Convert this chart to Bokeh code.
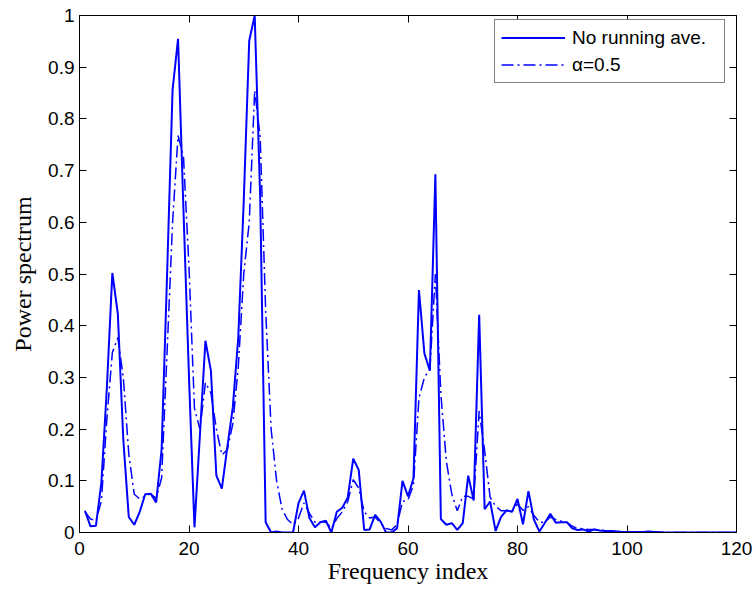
from bokeh.plotting import figure
from bokeh.models import LinearAxis, FixedTicker, CustomJSTickFormatter, Range1d
from bokeh.embed import file_html
from bokeh.resources import INLINE

freq = list(range(1, 121))

no_running = [
    0.042, 0.012, 0.013, 0.097, 0.28, 0.502, 0.423, 0.18, 0.030, 0.015,
    0.04, 0.074, 0.075, 0.058, 0.161, 0.50, 0.856, 0.955, 0.62, 0.30,
    0.01, 0.19, 0.371, 0.313, 0.11, 0.085, 0.165, 0.242, 0.377, 0.642,
    0.951, 1.0, 0.65, 0.02, 0.0, 0.002, 0.0, 0.0, 0.0, 0.057,
    0.081, 0.028, 0.01, 0.02, 0.023, 0.0, 0.04, 0.048, 0.068, 0.143,
    0.121, 0.005, 0.006, 0.034, 0.021, 0.0, 0.0, 0.008, 0.1, 0.07,
    0.105, 0.469, 0.346, 0.313, 0.693, 0.026, 0.015, 0.018, 0.005, 0.018,
    0.11, 0.062, 0.421, 0.045, 0.06, 0.003, 0.03, 0.043, 0.04, 0.065,
    0.016, 0.08, 0.025, 0.002, 0.019, 0.036, 0.019, 0.02, 0.02, 0.008,
    0.005, 0.006, 0.002, 0.006, 0.004, 0.003, 0.003, 0.002, 0.001, 0.001,
    0.001, 0.001, 0.001, 0.002, 0.001, 0.0, 0.0, 0.0, 0.0, 0.0,
    0.0, 0.0, 0.0, 0.0, 0.0, 0.0, 0.0, 0.0, 0.0, 0.0,
]

alpha_05 = [
    0.04, 0.026, 0.023, 0.061, 0.22, 0.348, 0.377, 0.30, 0.152, 0.074,
    0.065, 0.07, 0.075, 0.066, 0.106, 0.35, 0.60, 0.768, 0.726, 0.513,
    0.24, 0.20, 0.29, 0.27, 0.20, 0.15, 0.16, 0.21, 0.32, 0.50,
    0.60, 0.855, 0.765, 0.43, 0.20, 0.10, 0.045, 0.025, 0.015, 0.028,
    0.057, 0.037, 0.02, 0.021, 0.02, 0.008, 0.027, 0.04, 0.06, 0.102,
    0.086, 0.04, 0.028, 0.03, 0.018, 0.008, 0.005, 0.015, 0.06, 0.063,
    0.092, 0.26, 0.30, 0.316, 0.50, 0.268, 0.138, 0.074, 0.042, 0.07,
    0.07, 0.065, 0.235, 0.158, 0.068, 0.051, 0.042, 0.042, 0.042, 0.055,
    0.043, 0.05, 0.033, 0.02, 0.02, 0.03, 0.025, 0.022, 0.02, 0.012,
    0.008, 0.007, 0.006, 0.006, 0.005, 0.004, 0.003, 0.002, 0.002, 0.001,
    0.001, 0.001, 0.001, 0.002, 0.001, 0.001, 0.0, 0.0, 0.0, 0.0,
    0.0, 0.0, 0.0, 0.0, 0.0, 0.0, 0.0, 0.0, 0.0, 0.0,
]

x_ticks = [0, 20, 40, 60, 80, 100, 120]
y_ticks = [0, 0.1, 0.2, 0.3, 0.4, 0.5, 0.6, 0.7, 0.8, 0.9, 1.0]

TICK_FONT = "Liberation Sans"
LABEL_FONT = "Liberation Serif"

p = figure(width=756, height=591, output_backend="svg", toolbar_location=None,
           x_range=Range1d(0, 120), y_range=Range1d(0, 1),
           min_border_left=79, min_border_right=20, min_border_top=15, min_border_bottom=59)
p.background_fill_color = "white"
p.border_fill_color = "white"
p.outline_line_color = "black"
p.outline_line_width = 1
p.grid.visible = False

p.line(freq, no_running, line_color="#0000FF", line_width=2, legend_label="No running ave.")
p.line(freq, alpha_05, line_color="#0000FF", line_width=1.5, line_dash="12 4 2 4",
       legend_label="\u03b1=0.5")

def style_axis(ax, ticks, show_labels=True):
    ax.ticker = FixedTicker(ticks=ticks)
    ax.axis_line_color = "black"
    ax.major_tick_line_color = "black"
    ax.major_tick_in = 7
    ax.major_tick_out = 0
    ax.minor_tick_line_color = None
    ax.major_label_text_font = TICK_FONT
    ax.major_label_text_color = "black"
    if show_labels:
        ax.major_label_text_font_size = "19px"
    else:
        ax.major_label_text_font_size = "6px"
        ax.major_label_standoff = 0
        ax.formatter = CustomJSTickFormatter(code="return '';")

xa = p.xaxis[0]
style_axis(xa, x_ticks)
xa.major_label_standoff = 9
xa.axis_label = "Frequency index"
xa.axis_label_text_font = LABEL_FONT
xa.axis_label_text_font_size = "24px"
xa.axis_label_text_font_style = "normal"
xa.axis_label_text_color = "black"
xa.axis_label_standoff = 0

ya = p.yaxis[0]
style_axis(ya, y_ticks)
ya.major_label_standoff = 5
ya.formatter = CustomJSTickFormatter(code="return tick.toFixed(1).replace(/\\.0$/, '');")
ya.axis_label = "Power spectrum"
ya.axis_label_text_font = LABEL_FONT
ya.axis_label_text_font_size = "24px"
ya.axis_label_text_font_style = "normal"
ya.axis_label_text_color = "black"
ya.axis_label_standoff = 9

top_ax = LinearAxis()
style_axis(top_ax, x_ticks, show_labels=False)
p.add_layout(top_ax, "above")
right_ax = LinearAxis()
style_axis(right_ax, y_ticks, show_labels=False)
p.add_layout(right_ax, "right")

lg = p.legend[0]
lg.location = (415, 449)
lg.margin = 0
lg.border_line_color = "black"
lg.border_line_width = 1
lg.background_fill_color = "white"
lg.background_fill_alpha = 1
lg.label_text_font = TICK_FONT
lg.label_text_font_size = "19px"
lg.label_text_color = "black"
lg.glyph_width = 64
lg.glyph_height = 23
lg.label_height = 23
lg.label_width = 146
lg.label_standoff = 7
lg.padding = 6
lg.spacing = 4

open("out.html", "w").write(file_html(p, INLINE))
